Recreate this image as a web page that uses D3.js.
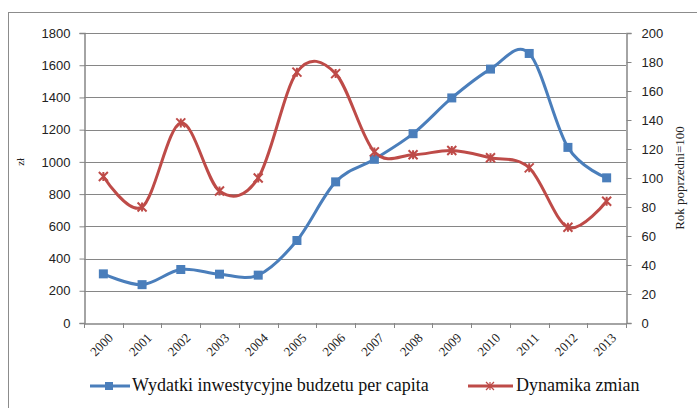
<!DOCTYPE html>
<html>
<head>
<meta charset="utf-8">
<script src="https://cdn.jsdelivr.net/npm/d3@7"></script>
<style>
html,body{margin:0;padding:0;background:#fff;}
svg{display:block;}
.serif{font-family:"Liberation Serif","DejaVu Serif","Times New Roman",serif;}
.sans{font-family:"Liberation Sans",Arial,sans-serif;}
</style>
</head>
<body>
<svg id="chart" width="697" height="408"></svg>
<script>
const years = ["2000","2001","2002","2003","2004","2005","2006","2007","2008","2009","2010","2011","2012","2013"];
const wydatki = [305, 238, 332, 303, 297, 512, 876, 1016, 1175, 1397, 1576, 1673, 1090, 901];
const dynamika = [101, 80, 138, 91, 100, 173, 172, 118, 116, 119, 114, 107, 66, 84];
const leftTicks = [0,200,400,600,800,1000,1200,1400,1600,1800];
const rightTicks = [0,20,40,60,80,100,120,140,160,180,200];
const seriesNames = ["Wydatki inwestycyjne budzetu per capita","Dynamika zmian"];
const leftTitle = "zł";
const rightTitle = "Rok poprzedni=100";

const svg = d3.select("#chart");
const L = 84, R = 626, T = 33, B = 323;
const blue = "#4A7EBB", red = "#BE4B48", grid = "#868686";

// outer frame
svg.append("rect").attr("x",8.5).attr("y",12.5).attr("width",720).attr("height",420)
  .attr("fill","none").attr("stroke","#8c8c8c").attr("stroke-width",1);

const x = d3.scaleBand().domain(years).range([L,R]);
const yL = d3.scaleLinear().domain([0,1800]).range([B,T]);
const yR = d3.scaleLinear().domain([0,200]).range([B,T]);

// gridlines
svg.append("g").selectAll("line").data(leftTicks.filter(d=>d>0)).join("line")
  .attr("x1",L).attr("x2",R).attr("y1",d=>Math.round(yL(d))+0.5).attr("y2",d=>Math.round(yL(d))+0.5)
  .attr("stroke",grid).attr("stroke-width",1);

// left axis
const gl = svg.append("g").attr("transform",`translate(${L+0.5},0)`)
  .call(d3.axisLeft(yL).tickValues(leftTicks).tickSize(5).tickPadding(9).tickFormat(d3.format("d")));
// right axis
const gr = svg.append("g").attr("transform",`translate(${R+0.5},0)`)
  .call(d3.axisRight(yR).tickValues(rightTicks).tickSize(5).tickPadding(10).tickFormat(d3.format("d")));
// bottom axis
const gb = svg.append("g").attr("transform",`translate(0,${B+0.5})`)
  .call(d3.axisBottom(x).tickSize(0).tickFormat(""));
// category boundary ticks
svg.append("g").selectAll("line").data(d3.range(years.length+1)).join("line")
  .attr("x1",i=>Math.round(L+i*x.step())+0.5).attr("x2",i=>Math.round(L+i*x.step())+0.5)
  .attr("y1",B).attr("y2",B+5).attr("stroke",grid);

[gl,gr,gb].forEach(g=>{
  g.attr("font-family",null).attr("font-size",null);
  g.select(".domain").attr("stroke",grid).attr("stroke-width",1.5);
  g.selectAll(".tick line").attr("stroke",grid);
  g.selectAll(".tick text").attr("class","sans").style("font-size","13px").attr("fill","#222");
});

// x labels
svg.append("g").selectAll("text").data(years).join("text")
  .attr("class","serif")
  .attr("transform",d=>`translate(${x(d)+x.bandwidth()/2+4},${B+9}) rotate(-45)`)
  .attr("text-anchor","end").attr("dy","0.71em")
  .style("font-size","13px").attr("fill","#222")
  .text(d=>d);

// axis titles
svg.append("text").attr("class","serif").attr("transform",`translate(24,${yL(1000)}) rotate(-90)`)
  .attr("text-anchor","middle").style("font-size","11px").attr("fill","#222")
  .text(leftTitle);
svg.append("text").attr("class","serif").attr("transform",`translate(684,${(yR(200)+yR(0))/2}) rotate(-90)`)
  .attr("text-anchor","middle").style("font-size","13px").attr("fill","#222")
  .text(rightTitle);

const cx = d => x(d)+x.bandwidth()/2;
const curve = d3.curveCardinal.tension(0);

svg.append("path").datum(years.map((d,i)=>[cx(d),yL(wydatki[i])]))
  .attr("d",d3.line().curve(curve)).attr("fill","none").attr("stroke",blue).attr("stroke-width",3);
svg.append("path").datum(years.map((d,i)=>[cx(d),yR(dynamika[i])]))
  .attr("d",d3.line().curve(curve)).attr("fill","none").attr("stroke",red).attr("stroke-width",3);

function square(g,px,py,s){
  g.append("rect").attr("x",px-s/2).attr("y",py-s/2).attr("width",s).attr("height",s).attr("fill",blue);
}
function star(g,px,py,s,w){
  const h=s/2;
  g.append("path").attr("d",`M${px-h},${py-h}L${px+h},${py+h}M${px-h},${py+h}L${px+h},${py-h}M${px},${py-h}L${px},${py+h}`)
    .attr("stroke",red).attr("stroke-width",w).attr("fill","none");
}
const mk = svg.append("g");
years.forEach((d,i)=>square(mk,cx(d),yL(wydatki[i]),9));
years.forEach((d,i)=>star(mk,cx(d),yR(dynamika[i]),9,2));

// legend
const lg = svg.append("g");
const ly = 386;
lg.append("line").attr("x1",90).attr("x2",130).attr("y1",ly).attr("y2",ly).attr("stroke",blue).attr("stroke-width",3);
square(lg,109,ly,8);
lg.append("text").attr("class","serif").attr("x",132).attr("y",ly+5).style("font-size","18px")
  .attr("fill","#111").text(seriesNames[0]);
lg.append("line").attr("x1",468).attr("x2",513).attr("y1",ly).attr("y2",ly).attr("stroke",red).attr("stroke-width",3);
star(lg,490,ly,8,1.2);
lg.append("text").attr("class","serif").attr("x",516).attr("y",ly+5).style("font-size","18px")
  .attr("fill","#111").text(seriesNames[1]);
</script>
</body>
</html>
